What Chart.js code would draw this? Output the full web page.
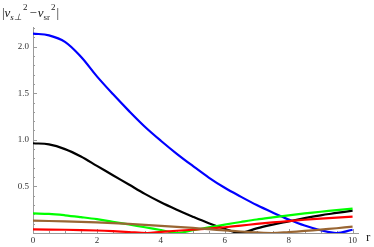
<!DOCTYPE html>
<html lang="en">
<head>
<meta charset="UTF-8">
<title>|v_s⊥² − v_sr²| vs r</title>
<script src="https://cdn.jsdelivr.net/npm/chart.js"></script>
<style>
  html, body { margin: 0; padding: 0; background: #fff; }
  #wrap { width: 374px; height: 247px; }
</style>
</head>
<body>
<div id="wrap"><canvas id="plot"></canvas></div>
<script>
// values
var rBlue  = [0, 0.5, 1, 1.5, 2, 2.5, 3, 3.5, 4, 4.5, 5, 5.5, 6, 6.5, 7, 7.5, 8, 8.5, 9, 9.5, 10];
var vBlue  = [2.14, 2.12, 2.05, 1.89, 1.68, 1.49, 1.31, 1.14, 0.99, 0.85, 0.72, 0.595, 0.485, 0.39, 0.30, 0.22, 0.145, 0.08, 0.03, 0, 0.035];
var rBlack = [0, 0.5, 1, 1.5, 2, 2.5, 3, 3.5, 4, 4.5, 5, 5.5, 6, 6.49, 7, 7.5, 8, 8.5, 9, 9.5, 10];
var vBlack = [0.963, 0.95, 0.90, 0.82, 0.72, 0.62, 0.52, 0.42, 0.33, 0.25, 0.175, 0.105, 0.045, 0, 0.05, 0.09, 0.125, 0.16, 0.19, 0.215, 0.24];
var rGreen = [0, 0.5, 1, 1.5, 2, 2.5, 3, 3.5, 4, 4.51, 5, 5.5, 6, 6.5, 7, 7.5, 8, 8.5, 9, 9.5, 10];
var vGreen = [0.21, 0.205, 0.19, 0.17, 0.148, 0.12, 0.092, 0.062, 0.032, 0, 0.03, 0.06, 0.09, 0.118, 0.145, 0.168, 0.19, 0.21, 0.228, 0.245, 0.262];
var rRed   = [0, 1, 2, 2.5, 3, 3.57, 4, 4.5, 5, 5.5, 6, 6.5, 7, 7.5, 8, 8.5, 9, 9.5, 10];
var vRed   = [0.038, 0.035, 0.027, 0.02, 0.01, 0, 0.012, 0.024, 0.035, 0.047, 0.062, 0.08, 0.097, 0.113, 0.128, 0.142, 0.154, 0.165, 0.175];
var rBrown = [0, 1, 2, 3, 4, 4.5, 5, 5.5, 6, 6.5, 7, 7.48, 8, 8.5, 9, 9.5, 10];
var vBrown = [0.132, 0.125, 0.114, 0.097, 0.077, 0.066, 0.054, 0.041, 0.028, 0.016, 0.006, 0, 0.01, 0.022, 0.036, 0.051, 0.068];

var xTicks = [0, 2, 4, 6, 8, 10];
var yTicks = [0.5, 1.0, 1.5, 2.0];

function pts(xs, ys) {
    return xs.map(function (x, i) { return { x: x, y: ys[i] }; });
}

function line(data, color) {
    return { data: data, borderColor: color, borderWidth: 2.2, pointRadius: 0, tension: 0.35, fill: false };
}

// inward tick marks + the two axis labels
var decor = {
    id: 'decor',
    beforeDatasetsDraw: function (chart) {
        var ctx = chart.ctx, sx = chart.scales.x, sy = chart.scales.y, a = chart.chartArea;
        ctx.save();
        ctx.strokeStyle = '#9a9a9a';
        ctx.lineWidth = 1;
        ctx.beginPath();
        for (var i = 0; i <= 20; i++) {
            var v = i * 0.5;
            var px = Math.round(sx.getPixelForValue(v)) + 0.5;
            var len = (i % 4 === 0) ? 4 : 2;
            ctx.moveTo(px, a.bottom);
            ctx.lineTo(px, a.bottom - len);
        }
        for (var j = 1; j <= 22; j++) {
            var w = j * 0.1;
            var py = Math.round(sy.getPixelForValue(w)) + 0.5;
            var l2 = (j % 5 === 0) ? 4 : 2;
            ctx.moveTo(a.left, py);
            ctx.lineTo(a.left + l2, py);
        }
        ctx.stroke();
        ctx.restore();
    },
    afterDraw: function (chart) {
        var ctx = chart.ctx;
        ctx.save();
        ctx.fillStyle = '#222';
        ctx.textBaseline = 'alphabetic';
        var big = '13px "Liberation Serif"', bigI = 'italic 13px "Liberation Serif"';
        var small = '9px "Liberation Serif"', smallI = 'italic 9px "Liberation Serif"';
        var x = 2, base = 17;
        function put(t, f, dy) {
            ctx.font = f;
            ctx.fillText(t, x, base + dy);
            x += ctx.measureText(t).width;
        }
        put('|', big, 0);
        put('v', bigI, 0);
        put('s\u22A5', smallI, 3);
        x += 1;
        put('2', small, -7);
        x += 2;
        put('\u2212', big, 0);
        x += 1;
        put('v', bigI, 0);
        put('sr', small, 3);
        x += 1;
        put('2', small, -7);
        x += 1;
        put('|', big, 0);
        ctx.font = big;
        ctx.fillText('r', 366, 241);
        ctx.restore();
    }
};

new Chart(document.getElementById('plot'), {
    type: 'line',
    data: {
        datasets: [
            line(pts(rBrown, vBrown), '#996633'),
            line(pts(rRed, vRed), '#ff0000'),
            line(pts(rGreen, vGreen), '#00ff00'),
            line(pts(rBlack, vBlack), '#000000'),
            line(pts(rBlue, vBlue), '#0000ff')
        ]
    },
    options: {
        responsive: true,
        maintainAspectRatio: false,
        animation: false,
        events: [],
        layout: { padding: { left: 0, top: 27, right: 16, bottom: 0 } },
        plugins: { legend: { display: false }, tooltip: { enabled: false } },
        scales: {
            x: {
                type: 'linear',
                min: 0,
                max: 10.17,
                afterFit: function (s) { s.height = 14; },
                afterBuildTicks: function (s) { s.ticks = xTicks.map(function (v) { return { value: v }; }); },
                grid: { display: false, drawTicks: false },
                border: { display: true, color: '#9a9a9a', width: 1 },
                ticks: {
                    padding: 2,
                    maxRotation: 0,
                    color: '#333',
                    font: { family: '"Liberation Serif"', size: 9 },
                    callback: function (v) { return String(v); }
                }
            },
            y: {
                type: 'linear',
                min: 0,
                max: 2.21,
                afterFit: function (s) { s.width = 33; },
                afterBuildTicks: function (s) { s.ticks = yTicks.map(function (v) { return { value: v }; }); },
                grid: { display: false, drawTicks: false },
                border: { display: true, color: '#9a9a9a', width: 1 },
                ticks: {
                    padding: 4,
                    color: '#333',
                    font: { family: '"Liberation Serif"', size: 9 },
                    callback: function (v) { return v.toFixed(1); }
                }
            }
        }
    },
    plugins: [decor]
});
</script>
</body>
</html>
